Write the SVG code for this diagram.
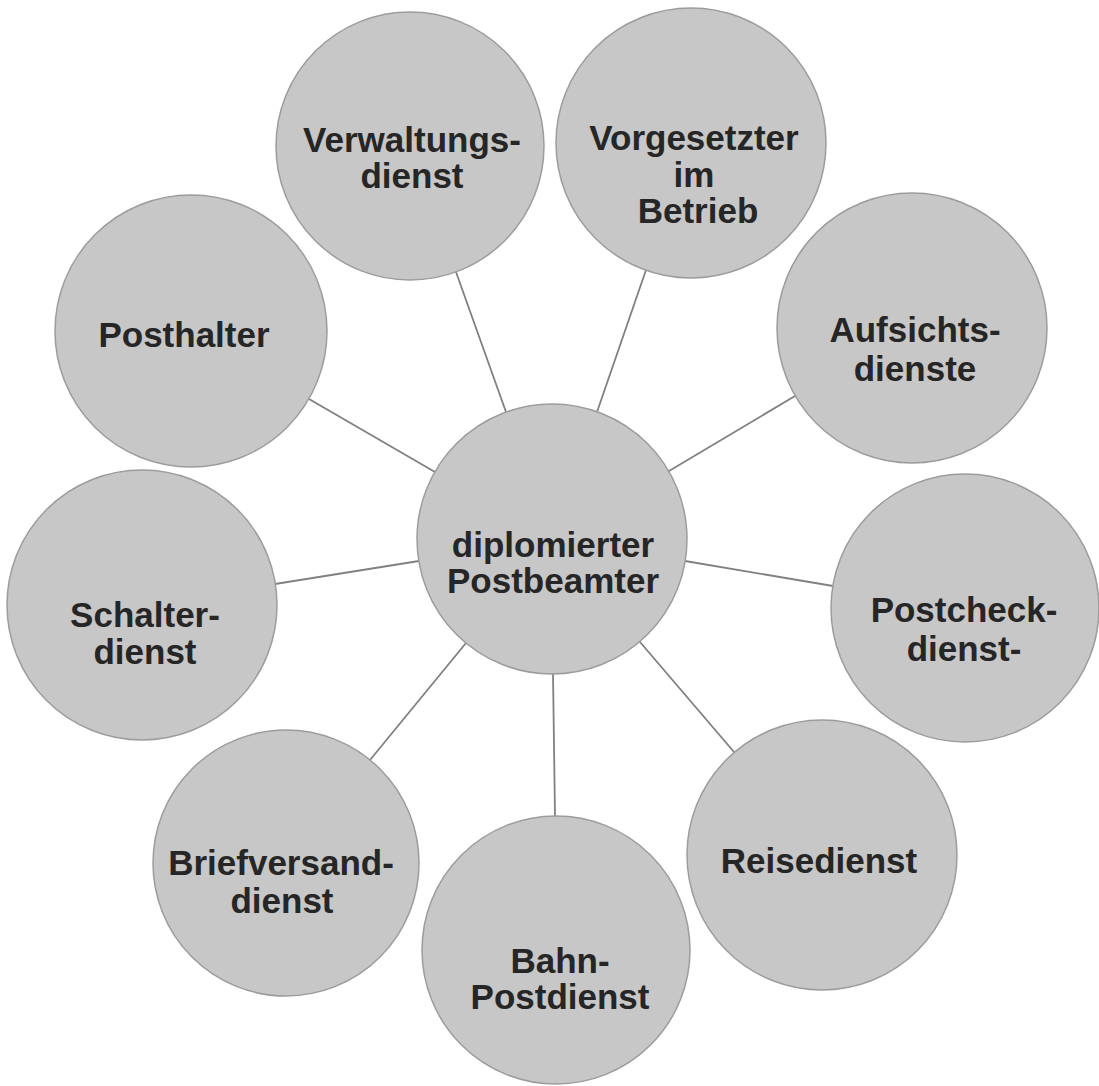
<svg xmlns="http://www.w3.org/2000/svg" width="1099" height="1086" viewBox="0 0 1099 1086">
<style>
.bg{fill:#ffffff}
.node circle{fill:#c7c7c7;stroke:#9c9c9c;stroke-width:1.5}
.node text{font-family:"Liberation Sans",Arial,Helvetica,sans-serif;font-weight:bold;font-size:35px;fill:#262626;text-anchor:middle}
.conn line{stroke:#808080;stroke-width:1.8;stroke-linecap:round}
</style>
<rect class="bg" x="0" y="0" width="1099" height="1086"/>
<g id="connectors" class="conn">
<line x1="506" y1="412" x2="456" y2="272"/>
<line x1="597" y1="412" x2="646" y2="270"/>
<line x1="435" y1="472" x2="309" y2="399"/>
<line x1="669" y1="471" x2="795" y2="396"/>
<line x1="419" y1="561" x2="275" y2="584"/>
<line x1="685" y1="561" x2="833" y2="586"/>
<line x1="466" y1="643" x2="370" y2="760"/>
<line x1="553" y1="674" x2="555" y2="816"/>
<line x1="640" y1="642" x2="734" y2="752"/>
</g>
<g id="node-center" class="node">
<circle cx="552" cy="539" r="135"/>
<text x="553" y="557">diplomierter</text>
<text x="553" y="593">Postbeamter</text>
</g>
<g id="node-verwaltungsdienst" class="node">
<circle cx="410" cy="146" r="134"/>
<text x="412" y="152">Verwaltungs-</text>
<text x="412" y="188">dienst</text>
</g>
<g id="node-vorgesetzter" class="node">
<circle cx="691" cy="143" r="135"/>
<text x="694" y="150">Vorgesetzter</text>
<text x="694" y="187">im</text>
<text x="698" y="223">Betrieb</text>
</g>
<g id="node-posthalter" class="node">
<circle cx="191" cy="331" r="136"/>
<text x="184" y="347">Posthalter</text>
</g>
<g id="node-aufsichtsdienste" class="node">
<circle cx="912" cy="328" r="135"/>
<text x="915" y="342">Aufsichts-</text>
<text x="915" y="381">dienste</text>
</g>
<g id="node-schalterdienst" class="node">
<circle cx="142" cy="605" r="135"/>
<text x="145" y="627">Schalter-</text>
<text x="145" y="664">dienst</text>
</g>
<g id="node-postcheckdienst" class="node">
<circle cx="965" cy="608" r="134"/>
<text x="964" y="622">Postcheck-</text>
<text x="964" y="661">dienst-</text>
</g>
<g id="node-briefversanddienst" class="node">
<circle cx="286" cy="863" r="133"/>
<text x="281" y="875">Briefversand-</text>
<text x="282" y="913">dienst</text>
</g>
<g id="node-bahnpostdienst" class="node">
<circle cx="556" cy="950" r="134"/>
<text x="560" y="973">Bahn-</text>
<text x="560" y="1009">Postdienst</text>
</g>
<g id="node-reisedienst" class="node">
<circle cx="822" cy="855" r="135"/>
<text x="819" y="873">Reisedienst</text>
</g>
</svg>
